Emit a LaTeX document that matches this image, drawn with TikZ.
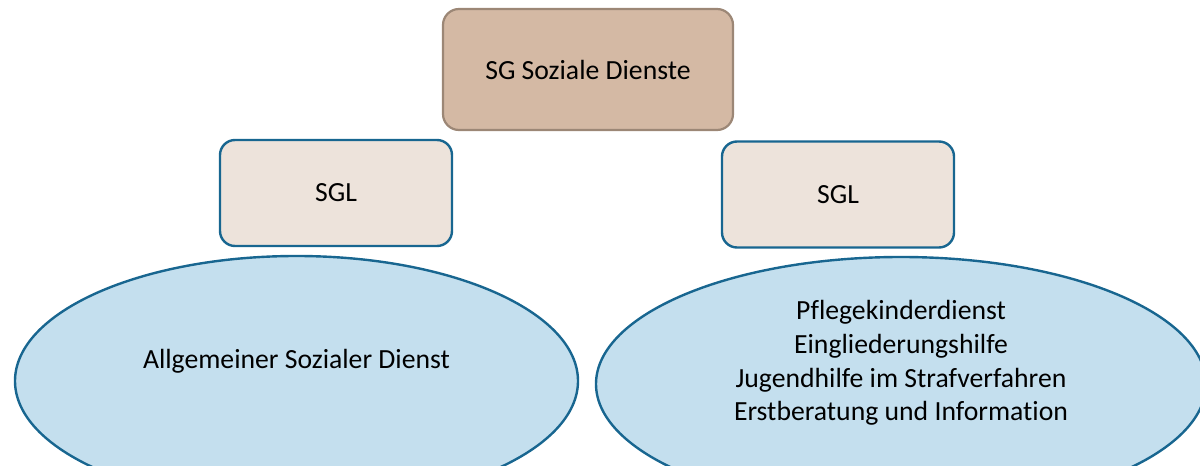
\documentclass[tikz,border=0pt]{standalone}
\usepackage{fontspec}
\setmainfont{Carlito}[Ligatures={NoCommon}]
\usetikzlibrary{shapes.geometric}
\definecolor{topfill}{HTML}{D4B9A4}
\definecolor{topdraw}{HTML}{9C8776}
\definecolor{sglfill}{HTML}{EDE3DB}
\definecolor{bluedraw}{HTML}{186690}
\definecolor{ellfill}{HTML}{C4DFEE}
\tikzset{
  x=1pt, y=1pt,
  txt/.style={font=\fontsize{27.7}{33.8}\selectfont, text=black, align=center, inner sep=0pt},
  topbox/.style={draw=topdraw, fill=topfill, line width=2.2pt, rounded corners=16pt, minimum width=290pt, minimum height=121pt, txt},
  sglbox/.style={draw=bluedraw, fill=sglfill, line width=2.4pt, rounded corners=15pt, minimum width=232pt, minimum height=106pt, txt},
  ell/.style={ellipse, draw=bluedraw, fill=ellfill, line width=2.4pt, inner sep=0pt}
}
\begin{document}
\begin{tikzpicture}
\useasboundingbox (0,0) rectangle (1200,466);
\clip (0,0) rectangle (1200,466);
\node[topbox] (top) at (588,396.5) {SG Soziale Dienste};
\node[sglbox] (sglL) at (336,273) {SGL};
\node[sglbox] (sglR) at (838,271.5) {SGL};
\node[ell, minimum width=563pt, minimum height=250pt] (ellL) at (296.5,85) {};
\node[ell, minimum width=610pt, minimum height=254pt] (ellR) at (901,82) {};
\node[txt] (ellLtext) at ([yshift=20pt]ellL.center) {Allgemeiner Sozialer Dienst};
\node[txt] (ellRtext) at ([yshift=21pt]ellR.center) {Pflegekinderdienst\\Eingliederungshilfe\\Jugendhilfe im Strafverfahren\\Erstberatung und Information};
\end{tikzpicture}
\end{document}
